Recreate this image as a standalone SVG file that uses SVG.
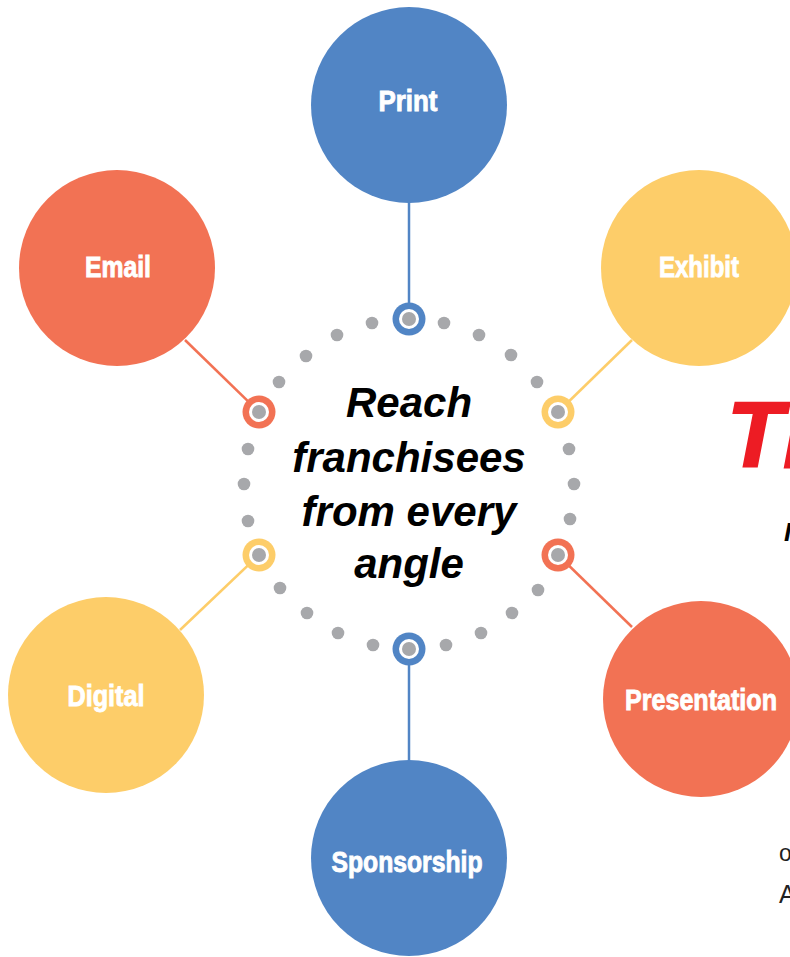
<svg xmlns="http://www.w3.org/2000/svg" width="790" height="957" viewBox="0 0 790 957">
<style>
.blue{fill:#5185C5}.orange{fill:#F27254}.yellow{fill:#FDCD69}
.lbl{font-family:"Liberation Sans",Arial,sans-serif;font-weight:bold;font-size:29px;fill:#ffffff;stroke:#ffffff;stroke-width:0.9;text-anchor:middle}
.ctr{font-family:"Liberation Sans",Arial,sans-serif;font-weight:bold;font-style:italic;font-size:42px;fill:#000;text-anchor:middle}
.dot{fill:#A7A8AB}
.ln{stroke-width:2.5;fill:none}
</style>
<rect width="790" height="957" fill="#ffffff"/>
<g id="connectors">
<line class="ln" x1="409" y1="200" x2="409" y2="305" stroke="#5185C5"/>
<line class="ln" x1="409" y1="663" x2="409" y2="765" stroke="#5185C5"/>
<line class="ln" x1="185" y1="340" x2="259" y2="412" stroke="#F27254"/>
<line class="ln" x1="632" y1="627" x2="558" y2="555" stroke="#F27254"/>
<line class="ln" x1="632" y1="340" x2="558" y2="412" stroke="#FDCD69"/>
<line class="ln" x1="180" y1="630" x2="259" y2="555" stroke="#FDCD69"/>
</g>
<g id="dots">
<circle class="dot" cx="372" cy="323" r="6.3"/><circle class="dot" cx="444" cy="323" r="6.3"/>
<circle class="dot" cx="337" cy="335" r="6.3"/><circle class="dot" cx="479" cy="335" r="6.3"/>
<circle class="dot" cx="306" cy="356" r="6.3"/><circle class="dot" cx="511" cy="355" r="6.3"/>
<circle class="dot" cx="279" cy="382" r="6.3"/><circle class="dot" cx="537" cy="382" r="6.3"/>
<circle class="dot" cx="248" cy="449" r="6.3"/><circle class="dot" cx="244" cy="484" r="6.3"/><circle class="dot" cx="248" cy="521" r="6.3"/>
<circle class="dot" cx="569" cy="449" r="6.3"/><circle class="dot" cx="574" cy="484" r="6.3"/><circle class="dot" cx="570" cy="519" r="6.3"/>
<circle class="dot" cx="280" cy="588" r="6.3"/><circle class="dot" cx="538" cy="590" r="6.3"/>
<circle class="dot" cx="307" cy="613" r="6.3"/><circle class="dot" cx="512" cy="613" r="6.3"/>
<circle class="dot" cx="338" cy="633" r="6.3"/><circle class="dot" cx="481" cy="633" r="6.3"/>
<circle class="dot" cx="373" cy="645" r="6.3"/><circle class="dot" cx="446" cy="645" r="6.3"/>
</g>
<g id="rings">
<g id="ring-print"><circle class="blue" cx="409" cy="319" r="16.5"/><circle cx="409" cy="319" r="10" fill="#fff"/><circle class="dot" cx="409" cy="319" r="7"/></g>
<g id="ring-sponsorship"><circle class="blue" cx="409" cy="649" r="16.5"/><circle cx="409" cy="649" r="10" fill="#fff"/><circle class="dot" cx="409" cy="649" r="7"/></g>
<g id="ring-email"><circle class="orange" cx="259" cy="412" r="16.5"/><circle cx="259" cy="412" r="10" fill="#fff"/><circle class="dot" cx="259" cy="412" r="7"/></g>
<g id="ring-presentation"><circle class="orange" cx="558" cy="555" r="16.5"/><circle cx="558" cy="555" r="10" fill="#fff"/><circle class="dot" cx="558" cy="555" r="7"/></g>
<g id="ring-exhibit"><circle class="yellow" cx="558" cy="412" r="16.5"/><circle cx="558" cy="412" r="10" fill="#fff"/><circle class="dot" cx="558" cy="412" r="7"/></g>
<g id="ring-digital"><circle class="yellow" cx="259" cy="555" r="16.5"/><circle cx="259" cy="555" r="10" fill="#fff"/><circle class="dot" cx="259" cy="555" r="7"/></g>
</g>
<g id="center">
<text class="ctr" x="409" y="417">Reach</text>
<text class="ctr" x="409" y="472">franchisees</text>
<text class="ctr" x="409" y="526">from every</text>
<text class="ctr" x="409" y="578">angle</text>
</g>
<g id="print"><circle class="blue" cx="409" cy="105" r="98"/><text class="lbl" x="408" y="111" textLength="59" lengthAdjust="spacingAndGlyphs">Print</text></g>
<g id="email"><circle class="orange" cx="117" cy="268" r="98"/><text class="lbl" x="118" y="277" textLength="66" lengthAdjust="spacingAndGlyphs">Email</text></g>
<g id="exhibit"><circle class="yellow" cx="699" cy="268" r="98"/><text class="lbl" x="699" y="277" textLength="80" lengthAdjust="spacingAndGlyphs">Exhibit</text></g>
<g id="digital"><circle class="yellow" cx="106" cy="695" r="98"/><text class="lbl" x="106" y="706" textLength="77" lengthAdjust="spacingAndGlyphs">Digital</text></g>
<g id="presentation"><circle class="orange" cx="701" cy="699" r="98"/><text class="lbl" x="701" y="710" textLength="152" lengthAdjust="spacingAndGlyphs">Presentation</text></g>
<g id="sponsorship"><circle class="blue" cx="409" cy="858" r="98"/><text class="lbl" x="407" y="872" textLength="151" lengthAdjust="spacingAndGlyphs">Sponsorship</text></g>
<g id="side-text" font-family="Liberation Sans, Arial, sans-serif">
<text x="727" y="467" font-size="92" font-weight="bold" font-style="italic" fill="#ED1C24" stroke="#ED1C24" stroke-width="2">Th</text>
<text x="784" y="541" font-size="26" font-weight="bold" font-style="italic" fill="#000">I</text>
<text x="779" y="861" font-size="23" fill="#222">o</text>
<text x="779" y="903" font-size="25" fill="#222">A</text>
</g>
</svg>
